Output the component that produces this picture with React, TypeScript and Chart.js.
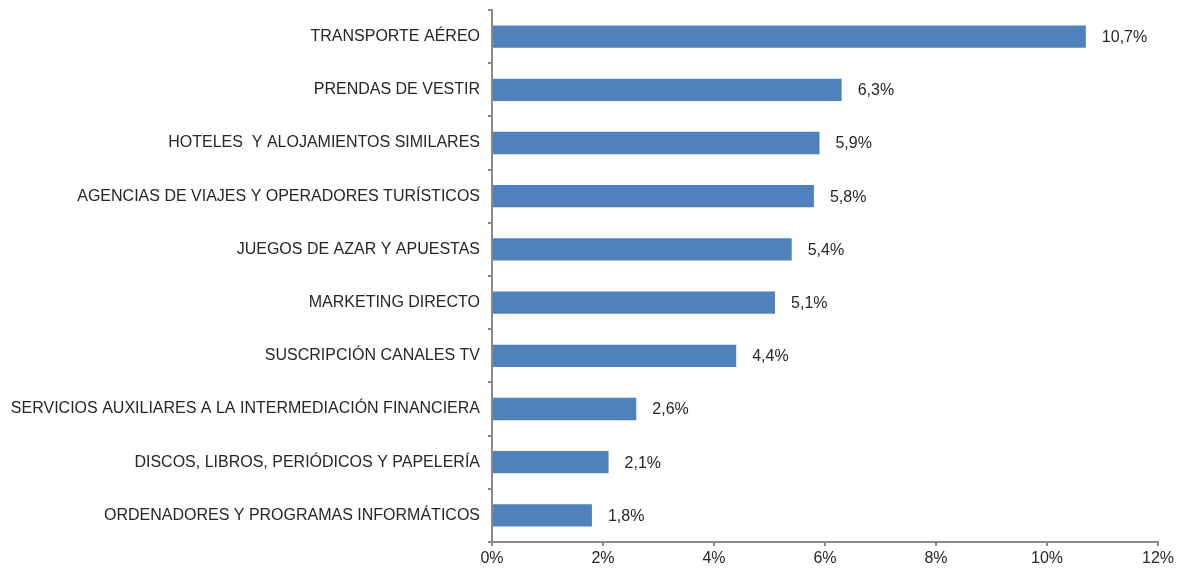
import React, { useEffect, useRef } from "react";
import { Chart, registerables } from "chart.js";

Chart.register(...registerables);

const categories = [
  "TRANSPORTE AÉREO",
  "PRENDAS DE VESTIR",
  "HOTELES  Y ALOJAMIENTOS SIMILARES",
  "AGENCIAS DE VIAJES Y OPERADORES TURÍSTICOS",
  "JUEGOS DE AZAR Y APUESTAS",
  "MARKETING DIRECTO",
  "SUSCRIPCIÓN CANALES TV",
  "SERVICIOS AUXILIARES A LA INTERMEDIACIÓN FINANCIERA",
  "DISCOS, LIBROS, PERIÓDICOS Y PAPELERÍA",
  "ORDENADORES Y PROGRAMAS INFORMÁTICOS",
];

const values = [10.7, 6.3, 5.9, 5.8, 5.4, 5.1, 4.4, 2.6, 2.1, 1.8];

const xTicks = [0, 2, 4, 6, 8, 10, 12];

const FONT = "'Liberation Sans', Arial, sans-serif";
const TEXT = "#262626";
const AXIS = "#8a8a8a";

const valueLabels = {
  id: "valueLabels",
  afterDatasetsDraw(chart: any) {
    const { ctx } = chart;
    const meta = chart.getDatasetMeta(0);
    ctx.save();
    ctx.font = `16px ${FONT}`;
    ctx.fillStyle = TEXT;
    ctx.textAlign = "left";
    ctx.textBaseline = "middle";
    meta.data.forEach((bar: any, i: number) => {
      const v = values[i];
      const txt = v.toFixed(1).replace(".", ",") + "%";
      ctx.fillText(txt, bar.x + 16, bar.y + 1);
    });
    ctx.restore();
  },
};

export default function App() {
  const ref = useRef<HTMLCanvasElement | null>(null);
  useEffect(() => {
    if (!ref.current) return;
    const chart = new Chart(ref.current, {
      type: "bar",
      data: {
        labels: categories,
        datasets: [
          {
            data: values,
            backgroundColor: "#4F81BD",
            borderWidth: 0,
            categoryPercentage: 0.42,
            barPercentage: 1,
          },
        ],
      },
      options: {
        indexAxis: "y",
        animation: false,
        responsive: true,
        maintainAspectRatio: false,
        layout: { padding: { top: 2, right: 18, left: 0, bottom: 0 } },
        plugins: {
          legend: { display: false },
          tooltip: { enabled: false },
        },
        scales: {
          x: {
            min: 0,
            max: 12,
            afterBuildTicks(scale: any) {
              scale.ticks = xTicks.map((v) => ({ value: v }));
            },
            afterFit(scale: any) {
              scale.height = 28;
              scale.paddingLeft = 0;
              scale.paddingRight = 0;
            },
            ticks: {
              callback: (v: any) => `${v}%`,
              font: { family: FONT, size: 16 },
              color: TEXT,
              padding: 3,
              maxRotation: 0,
            },
            grid: {
              drawOnChartArea: false,
              drawTicks: true,
              tickLength: 4,
              color: AXIS,
              lineWidth: 2,
            },
            border: { color: AXIS, width: 2 },
          },
          y: {
            afterFit(scale: any) {
              scale.width = 484;
              scale.paddingTop = 0;
              scale.paddingBottom = 0;
            },
            ticks: {
              font: { family: FONT, size: 16 },
              color: TEXT,
              padding: 8,
            },
            grid: {
              offset: true,
              drawOnChartArea: false,
              drawTicks: true,
              tickLength: 4,
              color: AXIS,
              lineWidth: 2,
            },
            border: { color: AXIS, width: 2 },
          },
        },
      },
      plugins: [valueLabels],
    });
    return () => chart.destroy();
  }, []);
  return (
    <div style={{ position: "absolute", left: 8, top: 8, width: 1168, height: 562 }}>
      <canvas ref={ref} />
    </div>
  );
}
